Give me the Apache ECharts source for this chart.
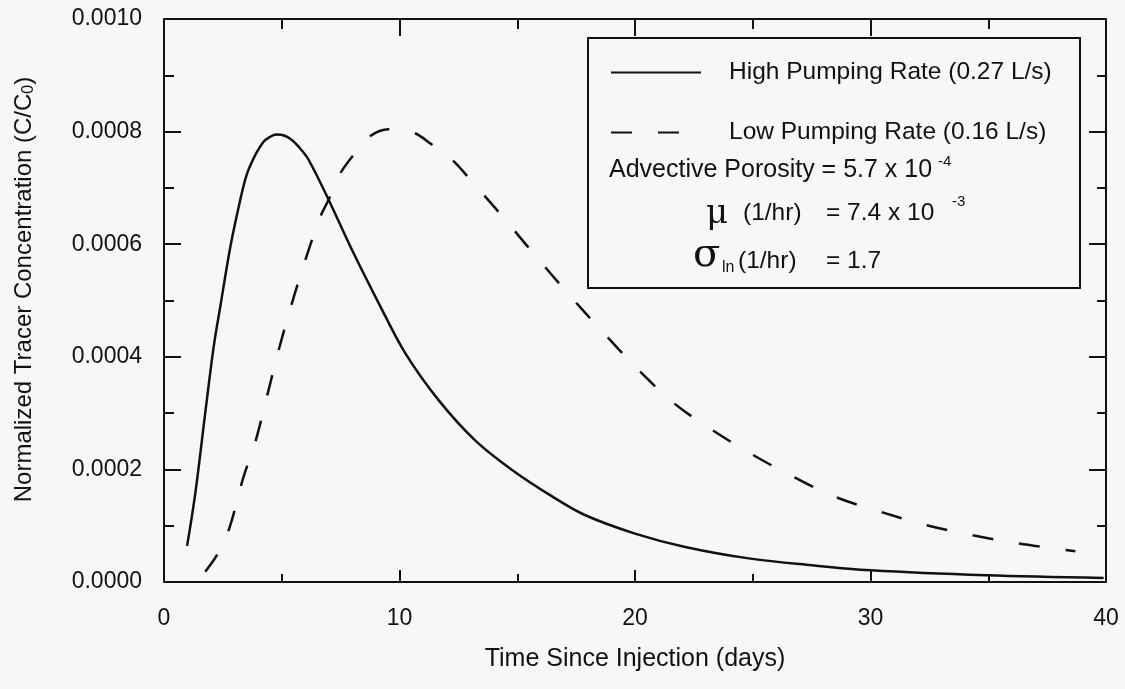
<!DOCTYPE html>
<html>
<head>
<meta charset="utf-8">
<script src="https://cdn.jsdelivr.net/npm/echarts@6/dist/echarts.min.js"></script>
<style>
  html, body { margin: 0; padding: 0; background: #f7f7f7; }
  #chart { width: 1125px; height: 689px; }
</style>
</head>
<body>
<div id="chart"></div>
<script>
// Breakthrough curves: time since injection (days) vs normalized concentration
const highDays = [0.98, 1.33, 1.75, 2.11, 2.39, 2.82, 3.24, 3.5, 3.8, 4.05, 4.3, 4.8, 5.1, 5.43, 5.8, 6.14, 6.99, 7.98, 9.12, 10.25, 11.66, 13.2, 14.78, 16.48, 17.87, 20.0, 22.13, 24.9, 27.5, 30.0, 34.9, 39.9];
const highConc = [0.000064, 0.000158, 0.0003, 0.000418, 0.000489, 0.000596, 0.000679, 0.000722, 0.000752, 0.000771, 0.000785, 0.000795, 0.000793, 0.000785, 0.000769, 0.00075, 0.000679, 0.00059, 0.000495, 0.000406, 0.000323, 0.000252, 0.000199, 0.000152, 0.000119, 0.000086, 0.0000623, 0.0000415, 0.0000297, 0.0000208, 0.0000119, 0.0000071];

const lowDays = [1.75, 2.25, 2.75, 3.38, 3.88, 4.37, 4.87, 5.43, 6.0, 6.64, 6.99, 7.49, 7.98, 8.69, 9.54, 10.6, 11.31, 12.23, 13.0, 14.07, 14.8, 15.4, 16.15, 16.64, 17.46, 18.3, 19.34, 20.16, 21.64, 23.28, 25.0, 26.72, 28.52, 30.41, 32.38, 34.34, 36.31, 38.7];
const lowConc = [0.0000183, 0.000048, 0.0000924, 0.000187, 0.000249, 0.000329, 0.000412, 0.000495, 0.000572, 0.000649, 0.000679, 0.000726, 0.000755, 0.00079, 0.000804, 0.000798, 0.000779, 0.00075, 0.000715, 0.000664, 0.000628, 0.000598, 0.000561, 0.000537, 0.000498, 0.000459, 0.000412, 0.000376, 0.000318, 0.00027, 0.000226, 0.000187, 0.000151, 0.000125, 0.000101, 0.0000831, 0.0000682, 0.0000546];

const seriesNames = ['High Pumping Rate (0.27 L/s)', 'Low Pumping Rate (0.16 L/s)'];
const xTitle = 'Time Since Injection (days)';
const yTitle = 'Normalized Tracer Concentration (C/C';

const ink = '#111111';
const bg = '#f7f7f7';
const sans = '"Liberation Sans", Arial, sans-serif';
const serif = '"DejaVu Serif", "Liberation Serif", serif';

const zip = (xs, ys) => xs.map((x, i) => [x, ys[i]]);

const chart = echarts.init(document.getElementById('chart'), null, { renderer: 'canvas' });

const axisLineStyle = { color: ink, width: 2 };
const tickStyle = { color: ink, width: 2 };

// plain text element inside the parameter box
function label(text, x, y, font) {
  return {
    type: 'text', z: 7, x: x, y: y,
    style: { text: text, fill: ink, font: font, align: 'left', verticalAlign: 'middle', textAlign: 'left', textVerticalAlign: 'middle' }
  };
}

chart.setOption({
  backgroundColor: bg,
  animation: false,
  grid: { left: 164, right: 19, top: 19, bottom: 107 },
  xAxis: [
    {
      type: 'value', min: 0, max: 40, interval: 10, position: 'bottom',
      axisLine: { show: true, onZero: false, lineStyle: axisLineStyle },
      axisTick: { show: true, inside: true, length: 12, lineStyle: tickStyle },
      minorTick: { show: true, splitNumber: 2, length: 8, lineStyle: tickStyle },
      splitLine: { show: false },
      axisLabel: { color: ink, fontFamily: sans, fontSize: 23, margin: 25 },
      name: xTitle, nameLocation: 'middle', nameGap: 65,
      nameTextStyle: { color: ink, fontFamily: sans, fontSize: 25 }
    },
    {
      type: 'value', min: 0, max: 40, interval: 10, position: 'top',
      axisLine: { show: true, onZero: false, lineStyle: axisLineStyle },
      axisTick: { show: true, inside: true, length: 17, lineStyle: tickStyle },
      minorTick: { show: true, splitNumber: 2, length: 10, lineStyle: tickStyle },
      splitLine: { show: false },
      axisLabel: { show: false }
    }
  ],
  yAxis: [
    {
      type: 'value', min: 0, max: 0.001, interval: 0.0002, position: 'left',
      axisLine: { show: true, onZero: false, lineStyle: axisLineStyle },
      axisTick: { show: true, inside: true, length: 17, lineStyle: tickStyle },
      minorTick: { show: true, splitNumber: 2, length: 10, lineStyle: tickStyle },
      splitLine: { show: false },
      axisLabel: { color: ink, fontFamily: sans, fontSize: 23, margin: 22, formatter: v => v.toFixed(4) },
      name: '{t|' + yTitle + '}{s|0}{t|)}', nameLocation: 'middle', nameGap: 127,
      nameTextStyle: {
        padding: [0, 0, 0, 22],
        rich: {
          t: { color: ink, fontFamily: sans, fontSize: 24 },
          s: { color: ink, fontFamily: sans, fontSize: 16, padding: [10, 0, 0, 0] }
        }
      }
    },
    {
      type: 'value', min: 0, max: 0.001, interval: 0.0002, position: 'right',
      axisLine: { show: true, onZero: false, lineStyle: axisLineStyle },
      axisTick: { show: true, inside: true, length: 17, lineStyle: tickStyle },
      minorTick: { show: true, splitNumber: 2, length: 9, lineStyle: tickStyle },
      splitLine: { show: false },
      axisLabel: { show: false }
    }
  ],
  legend: {
    orient: 'vertical', left: 610, top: 60, padding: 0,
    itemWidth: 90, itemHeight: 24, itemGap: 35,
    data: seriesNames,
    itemStyle: { opacity: 0 },
    textStyle: { color: ink, fontFamily: sans, fontSize: 24.5, lineHeight: 24, padding: [0, 0, 0, 23] },
    selectedMode: false,
    z: 6
  },
  series: [
    {
      name: seriesNames[0], type: 'line', xAxisIndex: 0, yAxisIndex: 0,
      data: zip(highDays, highConc), smooth: 0.35, showSymbol: false, symbol: 'none',
      lineStyle: { color: ink, width: 2.5, type: 'solid' }, itemStyle: { color: ink }, z: 2
    },
    {
      name: seriesNames[1], type: 'line', xAxisIndex: 0, yAxisIndex: 0,
      data: zip(lowDays, lowConc), smooth: 0.35, showSymbol: false, symbol: 'none',
      lineStyle: { color: ink, width: 2.5, type: [21, 26] }, itemStyle: { color: ink }, z: 2
    }
  ],
  graphic: [
    {
      type: 'rect', z: 3,
      shape: { x: 588, y: 38, width: 492, height: 250 },
      style: { fill: bg, stroke: ink, lineWidth: 2 }
    },
    label('Advective Porosity = 5.7 x 10', 609, 170, '25px ' + sans),
    label('-4', 938, 162, '15px ' + sans),
    label('μ', 706, 214, '34px ' + serif),
    label('(1/hr)', 743, 213, '24.5px ' + sans),
    label('= 7.4 x 10', 826, 213, '24.5px ' + sans),
    label('-3', 952, 202, '15px ' + sans),
    label('σ', 693, 256, '40px ' + serif),
    label('ln', 722, 268, '16px ' + sans),
    label('(1/hr)', 738, 261, '24.5px ' + sans),
    label('= 1.7', 826, 261, '24.5px ' + sans)
  ]
});
</script>
</body>
</html>
